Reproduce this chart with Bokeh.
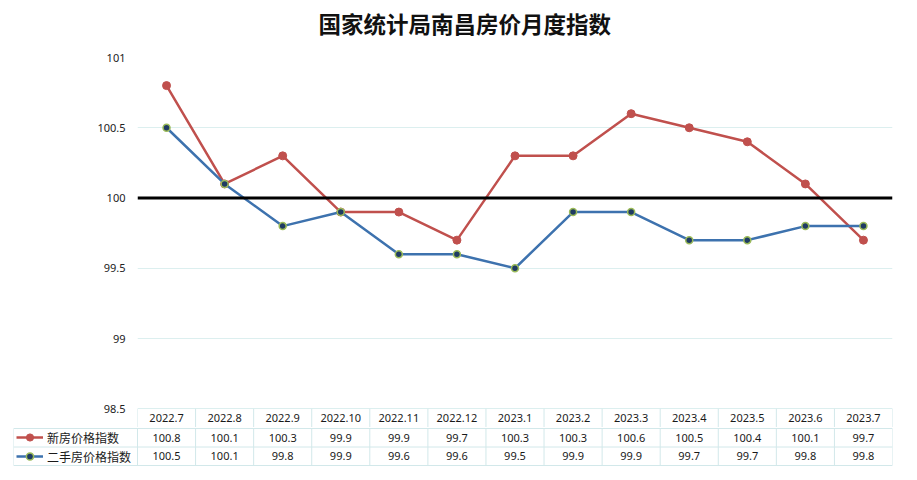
from bokeh.plotting import figure
from bokeh.models import FactorRange, Range1d, FixedTicker, Span, ColumnDataSource, Legend, LegendItem
from bokeh.transform import dodge
from bokeh.layouts import column
from bokeh.embed import file_html
from bokeh.resources import INLINE
from bokeh.core.properties import value

# ---------------- data ----------------
months = ["2022.7", "2022.8", "2022.9", "2022.10", "2022.11", "2022.12",
          "2023.1", "2023.2", "2023.3", "2023.4", "2023.5", "2023.6", "2023.7"]
new_home = [100.8, 100.1, 100.3, 99.9, 99.9, 99.7, 100.3, 100.3, 100.6, 100.5, 100.4, 100.1, 99.7]
second_hand = [100.5, 100.1, 99.8, 99.9, 99.6, 99.6, 99.5, 99.9, 99.9, 99.7, 99.7, 99.8, 99.8]
y_ticks = [98.5, 99, 99.5, 100, 100.5, 101]
series_names = ["新房价格指数", "二手房价格指数"]
title_text = "国家统计局南昌房价月度指数"
baseline = 100

# ---------------- styles ----------------
RED = "#c0504d"
BLUE = "#3d72ae"
NAVY = "#1f3b63"
GREEN = "#9bbb59"
GRID = "#dcefef"
TABLE = "#d2e8ea"
TXT = "#1a1a1a"
NUM_FONT = "Noto Sans"
CJK = "Noto Sans CJK SC"

W = 910
frame_left, frame_right = 137, 892
table_left = 13
px_per_unit_y = 140.5
title_h = 47
frame_top, frame_bottom = 57, 427
y_end = 101.0
y_start = y_end - (frame_bottom - frame_top) / px_per_unit_y

# ---------------- title strip ----------------
t = figure(width=W, height=title_h, x_range=Range1d(0, W), y_range=Range1d(0, title_h),
           x_axis_type=None, y_axis_type=None, output_backend="svg", toolbar_location=None,
           min_border_left=0, min_border_right=0, min_border_top=0, min_border_bottom=0)
t.frame_align = False
t.outline_line_color = None
t.grid.visible = False
t.text(x=[318], y=[title_h - 22], text=[title_text], text_align="left", text_baseline="middle",
       text_font=value(CJK), text_font_size="22.5px", text_font_style="bold", text_color="#111111")

# ---------------- chart ----------------
p = figure(width=W, height=frame_bottom - title_h, x_range=FactorRange(factors=months),
           y_range=Range1d(y_start, y_end),
           output_backend="svg", toolbar_location=None,
           min_border_left=frame_left, min_border_right=W - frame_right,
           min_border_top=frame_top - title_h, min_border_bottom=0)
p.frame_align = False
p.outline_line_color = None
p.xaxis.visible = False
p.xgrid.visible = False
p.yaxis.ticker = FixedTicker(ticks=y_ticks)
p.yaxis.axis_line_color = None
p.yaxis.major_tick_line_color = None
p.yaxis.minor_tick_line_color = None
p.yaxis.major_label_standoff = 6
p.yaxis.major_label_text_font = NUM_FONT
p.yaxis.major_label_text_font_size = "11px"
p.yaxis.major_label_text_color = "#222222"
p.ygrid.ticker = FixedTicker(ticks=[v for v in y_ticks if v != baseline])
p.ygrid.grid_line_color = GRID
p.ygrid.grid_line_width = 1

p.add_layout(Span(location=baseline, dimension="width", line_color="black", line_width=3))

p.line(x=months, y=new_home, line_color=RED, line_width=2.5)
p.scatter(x=months, y=new_home, size=8, fill_color=RED, line_color=RED)
p.line(x=months, y=second_hand, line_color=BLUE, line_width=2.5)
p.scatter(x=months, y=second_hand, size=7, fill_color=NAVY, line_color=GREEN, line_width=1.5)

# header row of the data table (inside chart frame, below 98.5)
header_y = (y_ticks[0] + y_start) / 2
hsrc = ColumnDataSource(dict(m=months, y=[header_y] * len(months)))
p.text(x="m", y="y", text="m", source=hsrc, text_align="center", text_baseline="middle",
       text_font=value(NUM_FONT), text_font_size="11px", text_color=TXT)
bsrc = ColumnDataSource(dict(m=months, y0=[y_start] * len(months), y1=[y_ticks[0]] * len(months)))
p.segment(x0=dodge("m", -0.5, range=p.x_range), x1=dodge("m", -0.5, range=p.x_range),
          y0="y0", y1="y1", source=bsrc, line_color=TABLE, line_width=1)
lsrc = ColumnDataSource(dict(m=months[-1:], y0=[y_start], y1=[y_ticks[0]]))
p.segment(x0=dodge("m", 0.5, range=p.x_range), x1=dodge("m", 0.5, range=p.x_range),
          y0="y0", y1="y1", source=lsrc, line_color=TABLE, line_width=1)

# ---------------- data rows ----------------
n = len(months)
px_per_cat = (frame_right - frame_left) / n
left_units = (frame_left - table_left) / px_per_cat
row_px = 18.5
x0_tab = -0.5 - left_units
q_height = 477 - frame_bottom
q = figure(width=W, height=q_height, x_range=Range1d(x0_tab, n - 0.5),
           y_range=Range1d(-1 / row_px, 2 + 1 / row_px),
           x_axis_type=None, y_axis_type=None,
           output_backend="svg", toolbar_location=None,
           min_border_left=table_left, min_border_right=W - frame_right,
           min_border_top=0, min_border_bottom=q_height - 39)
q.frame_align = False
q.outline_line_color = None
q.grid.visible = False

idx = list(range(n))
q.text(x=idx, y=[1.5] * n, text=[f"{v:g}" for v in new_home], text_align="center",
       text_baseline="middle", text_font=value(NUM_FONT), text_font_size="11px", text_color=TXT)
q.text(x=idx, y=[0.5] * n, text=[f"{v:g}" for v in second_hand], text_align="center",
       text_baseline="middle", text_font=value(NUM_FONT), text_font_size="11px", text_color=TXT)

q.segment(x0=[x0_tab] * 3, x1=[n - 0.5] * 3, y0=[0, 1, 2], y1=[0, 1, 2], line_color=TABLE, line_width=1)
vx = [x0_tab] + [k - 0.5 for k in range(n + 1)]
q.segment(x0=vx, x1=vx, y0=[0] * len(vx), y1=[2] * len(vx), line_color=TABLE, line_width=1)

# legend swatches (renderers placed outside the visible range)
off_x, off_y = [x0_tab - 50], [-50]
r1 = q.line(x=off_x, y=off_y, line_color=RED, line_width=2.5)
s1 = q.scatter(x=off_x, y=off_y, size=8, fill_color=RED, line_color=RED)
r2 = q.line(x=off_x, y=off_y, line_color=BLUE, line_width=2.5)
s2 = q.scatter(x=off_x, y=off_y, size=7, fill_color=NAVY, line_color=GREEN, line_width=1.5)
legend = Legend(items=[LegendItem(label=series_names[0], renderers=[r1, s1]),
                       LegendItem(label=series_names[1], renderers=[r2, s2])],
                location=(3, 1), orientation="vertical", glyph_width=27, glyph_height=18,
                label_height=18, spacing=1, padding=0, margin=0, label_standoff=4,
                background_fill_alpha=0, border_line_color=None,
                label_text_font=CJK, label_text_font_size="12px", label_text_color=TXT)
q.add_layout(legend)

layout = column(t, p, q, spacing=0)
open("out.html", "w").write(file_html(layout, INLINE))
